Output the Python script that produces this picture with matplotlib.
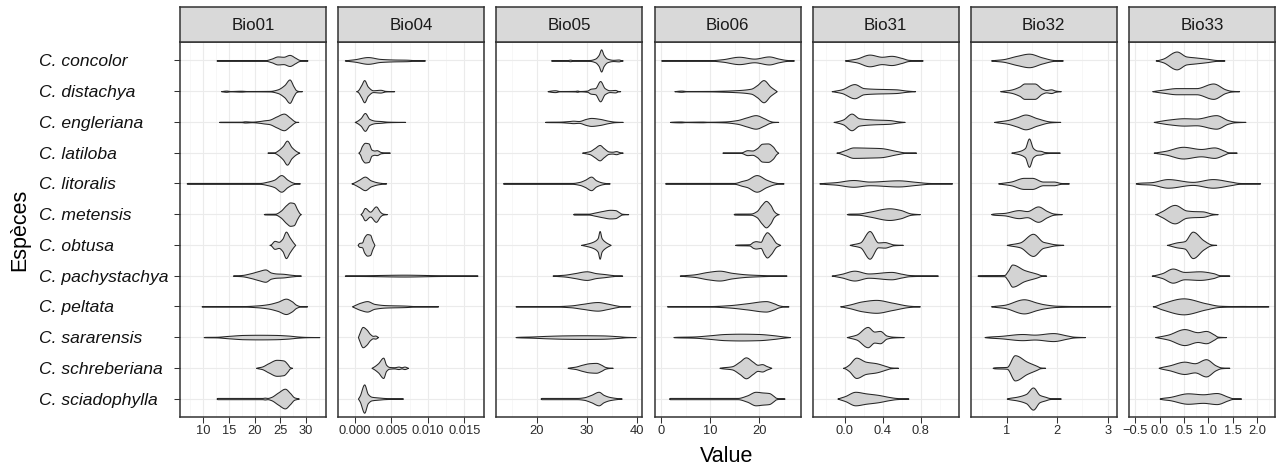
import numpy as np
import matplotlib
matplotlib.use("Agg")
import matplotlib.pyplot as plt

plt.rcParams['font.family'] = ['Liberation Sans', 'DejaVu Sans']

species = ["C. concolor", "C. distachya", "C. engleriana", "C. latiloba", "C. litoralis",
           "C. metensis", "C. obtusa", "C. pachystachya", "C. peltata", "C. sararensis",
           "C. schreberiana", "C. sciadophylla"]
panels = ["Bio01", "Bio04", "Bio05", "Bio06", "Bio31", "Bio32", "Bio33"]

# violin outlines: (value, half-width in category units), one list per species
bio01 = [
    [(12.6,0),(12.9,0.006),(22.0,0.008),(23.3,0.06),(24.5,0.13),(25.6,0.12),(26.8,0.18),(27.9,0.09),(28.7,0.02),(29.3,0.006),(30.3,0)],
    [(13.5,0),(13.7,0.006),(14.5,0.02),(15.3,0.006),(17.4,0.015),(18.5,0.006),(23.0,0.01),(24.5,0.06),(25.8,0.2),(26.8,0.38),(27.6,0.15),(28.1,0.03),(28.6,0.006),(29.2,0)],
    [(13.1,0),(13.3,0.006),(17.5,0.008),(18.1,0.02),(19.5,0.01),(21.0,0.03),(21.8,0.05),(22.8,0.07),(24.3,0.18),(25.7,0.27),(26.8,0.15),(27.7,0.03),(28.0,0.006),(28.5,0)],
    [(22.5,0),(22.7,0.006),(23.8,0.01),(24.6,0.08),(25.5,0.22),(26.3,0.39),(27.2,0.18),(28.2,0.04),(28.7,0)],
    [(6.8,0),(7.0,0.015),(21.0,0.015),(22.6,0.06),(23.8,0.12),(25.2,0.27),(26.4,0.12),(27.4,0.03),(28.0,0.006),(28.8,0)],
    [(21.8,0),(22.0,0.01),(24.0,0.015),(25.0,0.1),(26.2,0.3),(26.9,0.38),(27.6,0.36),(28.3,0.15),(28.8,0.02),(29.0,0)],
    [(22.9,0),(23.1,0.01),(23.9,0.13),(24.7,0.1),(25.4,0.2),(26.1,0.43),(26.8,0.25),(27.5,0.08),(27.9,0)],
    [(15.8,0),(16.0,0.006),(17.5,0.02),(19.3,0.08),(20.8,0.15),(22.1,0.2),(23.2,0.1),(24.2,0.07),(25.5,0.06),(27.0,0.03),(28.5,0.006),(29.0,0)],
    [(9.7,0),(9.9,0.006),(17.5,0.008),(20.5,0.03),(22.6,0.07),(24.5,0.15),(26.1,0.25),(27.2,0.17),(28.1,0.05),(28.8,0.01),(30.2,0)],
    [(10.1,0),(10.4,0.006),(12.5,0.01),(15.0,0.04),(18.0,0.07),(21.0,0.075),(24.0,0.07),(26.5,0.05),(28.4,0.02),(30.0,0.006),(32.6,0)],
    [(20.3,0),(20.5,0.01),(21.4,0.04),(22.7,0.15),(24.3,0.26),(25.6,0.24),(26.5,0.1),(26.8,0.03),(27.3,0)],
    [(12.6,0),(12.8,0.02),(21.5,0.02),(22.0,0.03),(22.5,0.02),(23.2,0.05),(24.6,0.2),(25.9,0.32),(26.9,0.18),(27.7,0.04),(28.1,0.02),(28.6,0)],
]
bio04 = [
    [(-0.00135,0),(-0.0012,0.006),(0.0,0.04),(0.0018,0.11),(0.0035,0.05),(0.0055,0.03),(0.007,0.025),(0.0082,0.01),(0.0096,0)],
    [(0.0002,0),(0.0004,0.02),(0.0009,0.2),(0.0013,0.36),(0.0018,0.15),(0.0025,0.03),(0.0035,0.045),(0.0042,0.01),(0.0054,0)],
    [(0.0,0),(0.0002,0.02),(0.0008,0.12),(0.0014,0.29),(0.002,0.1),(0.0028,0.04),(0.0035,0.03),(0.0045,0.01),(0.0069,0)],
    [(0.0005,0),(0.0007,0.05),(0.001,0.22),(0.0014,0.32),(0.0019,0.3),(0.0023,0.1),(0.0027,0.07),(0.003,0.08),(0.0036,0.02),(0.0048,0)],
    [(-0.00045,0),(-0.0002,0.02),(0.0006,0.12),(0.0014,0.22),(0.0022,0.1),(0.0032,0.03),(0.0043,0)],
    [(0.0008,0),(0.001,0.05),(0.0014,0.2),(0.0021,0.08),(0.0029,0.25),(0.0035,0.07),(0.0038,0.02),(0.0044,0)],
    [(0.0004,0),(0.0006,0.06),(0.001,0.08),(0.0013,0.25),(0.0017,0.35),(0.0021,0.33),(0.0024,0.15),(0.0027,0)],
    [(-0.00135,0),(-0.001,0.006),(0.002,0.015),(0.0068,0.03),(0.011,0.015),(0.015,0.006),(0.0168,0)],
    [(-0.00036,0),(-0.0001,0.03),(0.0008,0.12),(0.0017,0.17),(0.0027,0.08),(0.0042,0.04),(0.0068,0.025),(0.0085,0.006),(0.0114,0)],
    [(0.00045,0),(0.0006,0.1),(0.0011,0.33),(0.0016,0.25),(0.0021,0.1),(0.0025,0.04),(0.0028,0.05),(0.0032,0)],
    [(0.0023,0),(0.0026,0.04),(0.0032,0.15),(0.0039,0.33),(0.0043,0.1),(0.0047,0.03),(0.0054,0.02),(0.006,0.04),(0.0064,0.02),(0.0068,0.04),(0.0073,0)],
    [(0.00045,0),(0.0007,0.1),(0.0013,0.46),(0.0018,0.15),(0.0023,0.06),(0.003,0.04),(0.0035,0.03),(0.004,0.02),(0.0066,0)],
]
bio05 = [
    [(22.8,0),(23.0,0.006),(26.0,0.01),(26.6,0.025),(27.2,0.008),(30.5,0.015),(31.6,0.06),(32.3,0.18),(32.8,0.36),(33.3,0.18),(34.0,0.06),(35.2,0.02),(36.3,0.03),(36.8,0.008),(37.1,0)],
    [(22.1,0),(22.3,0.008),(23.6,0.03),(24.5,0.006),(27.6,0.01),(28.0,0.02),(28.5,0.006),(30.0,0.02),(30.7,0.08),(31.6,0.1),(32.6,0.33),(33.5,0.1),(34.5,0.03),(35.6,0.04),(36.1,0.01),(36.6,0)],
    [(21.6,0),(21.8,0.006),(24.5,0.01),(26.5,0.03),(27.2,0.04),(28.3,0.03),(29.8,0.1),(30.8,0.13),(32.5,0.1),(34.2,0.04),(35.5,0.01),(37.1,0)],
    [(29.0,0),(29.3,0.01),(30.5,0.05),(31.5,0.15),(32.5,0.25),(33.3,0.15),(34.3,0.04),(35.0,0.03),(35.8,0.05),(36.4,0.02),(37.1,0)],
    [(13.2,0),(13.4,0.015),(27.0,0.015),(28.5,0.05),(29.6,0.12),(30.8,0.22),(31.8,0.1),(33.0,0.03),(33.8,0.01),(34.5,0)],
    [(27.2,0),(27.4,0.015),(30.3,0.015),(31.5,0.05),(33.0,0.1),(34.6,0.14),(35.6,0.13),(36.4,0.06),(36.9,0.015),(38.2,0)],
    [(28.8,0),(29.1,0.01),(30.2,0.05),(31.4,0.12),(32.1,0.22),(32.5,0.45),(32.9,0.22),(33.6,0.1),(34.2,0.04),(34.7,0)],
    [(23.1,0),(23.4,0.006),(25.5,0.03),(27.5,0.08),(29.9,0.14),(31.8,0.08),(33.5,0.05),(35.0,0.02),(36.0,0.006),(37.0,0)],
    [(15.7,0),(16.0,0.006),(23.5,0.008),(26.7,0.03),(29.0,0.08),(32.1,0.14),(34.0,0.09),(35.8,0.03),(36.8,0.006),(38.6,0)],
    [(15.7,0),(16.0,0.006),(19.0,0.02),(22.0,0.04),(25.5,0.055),(29.3,0.06),(33.0,0.055),(36.0,0.03),(37.8,0.008),(39.7,0)],
    [(26.1,0),(26.4,0.01),(27.7,0.04),(29.0,0.1),(30.5,0.15),(31.8,0.16),(32.8,0.1),(33.6,0.03),(34.2,0.01),(35.1,0)],
    [(20.7,0),(20.9,0.02),(28.0,0.02),(29.3,0.04),(30.8,0.12),(32.3,0.22),(33.3,0.12),(34.3,0.06),(35.3,0.03),(36.3,0.01),(36.9,0)],
]
bio06 = [
    [(0.0,0),(0.3,0.008),(10.1,0.01),(12.5,0.04),(15.9,0.12),(19.0,0.06),(22.0,0.13),(24.0,0.06),(25.4,0.02),(27.1,0)],
    [(2.7,0),(3.0,0.006),(4.1,0.02),(5.2,0.006),(10.0,0.008),(12.2,0.015),(15.0,0.03),(18.3,0.08),(19.6,0.2),(20.9,0.36),(22.3,0.15),(23.6,0)],
    [(1.8,0),(2.1,0.006),(4.0,0.015),(5.0,0.006),(8.4,0.012),(9.5,0.006),(12.9,0.015),(15.5,0.06),(17.5,0.15),(19.3,0.22),(21.0,0.12),(22.2,0.03),(22.8,0.008),(23.9,0)],
    [(12.5,0),(12.8,0.008),(16.3,0.01),(17.6,0.08),(18.6,0.07),(19.6,0.15),(20.6,0.29),(21.8,0.3),(22.8,0.2),(23.5,0.05),(23.9,0)],
    [(0.8,0),(1.0,0.015),(14.9,0.015),(16.5,0.08),(17.5,0.12),(19.5,0.27),(21.5,0.12),(23.1,0.03),(24.0,0.008),(25.0,0)],
    [(14.8,0),(15.0,0.015),(18.3,0.02),(19.5,0.1),(20.5,0.3),(21.4,0.43),(22.3,0.3),(23.0,0.1),(23.6,0.02),(24.0,0)],
    [(15.1,0),(15.4,0.01),(18.0,0.02),(18.8,0.1),(19.3,0.12),(20.3,0.1),(21.0,0.3),(21.6,0.41),(22.4,0.3),(23.5,0.06),(24.3,0)],
    [(3.8,0),(4.1,0.006),(6.7,0.04),(9.5,0.12),(11.9,0.16),(14.5,0.09),(17.5,0.04),(20.3,0.02),(23.0,0.008),(25.6,0)],
    [(1.2,0),(1.5,0.006),(10.1,0.01),(14.0,0.04),(17.5,0.1),(21.4,0.17),(23.0,0.1),(24.1,0.03),(25.0,0.008),(26.0,0)],
    [(2.5,0),(2.8,0.006),(6.7,0.02),(10.0,0.06),(13.0,0.1),(16.3,0.11),(20.0,0.1),(23.0,0.06),(25.0,0.02),(26.3,0)],
    [(11.9,0),(12.2,0.01),(14.4,0.05),(16.0,0.2),(17.3,0.34),(18.7,0.2),(19.7,0.1),(20.6,0.12),(21.5,0.06),(22.5,0)],
    [(1.6,0),(1.8,0.02),(15.6,0.02),(17.5,0.1),(19.3,0.22),(20.6,0.2),(22.0,0.18),(23.0,0.08),(23.4,0.03),(23.8,0.015),(25.2,0)],
]
bio31 = [
    [(0.0,0),(0.02,0.01),(0.12,0.06),(0.26,0.19),(0.39,0.12),(0.49,0.15),(0.6,0.08),(0.67,0.02),(0.75,0.008),(0.82,0)],
    [(-0.14,0),(-0.12,0.01),(-0.035,0.06),(0.1,0.23),(0.2,0.1),(0.3,0.08),(0.54,0.06),(0.65,0.02),(0.74,0)],
    [(-0.12,0),(-0.1,0.01),(-0.02,0.08),(0.07,0.27),(0.15,0.12),(0.3,0.08),(0.47,0.06),(0.56,0.02),(0.63,0)],
    [(-0.09,0),(-0.07,0.01),(0.0,0.08),(0.09,0.17),(0.26,0.16),(0.37,0.15),(0.55,0.05),(0.63,0.01),(0.75,0)],
    [(-0.27,0),(-0.25,0.008),(-0.1,0.04),(0.09,0.11),(0.26,0.06),(0.56,0.1),(0.75,0.05),(0.88,0.015),(1.13,0)],
    [(0.02,0),(0.04,0.015),(0.14,0.02),(0.26,0.08),(0.47,0.19),(0.58,0.14),(0.7,0.02),(0.79,0)],
    [(0.05,0),(0.07,0.015),(0.16,0.08),(0.26,0.45),(0.35,0.08),(0.42,0.09),(0.47,0.05),(0.51,0.015),(0.61,0)],
    [(-0.14,0),(-0.12,0.01),(-0.035,0.06),(0.1,0.16),(0.25,0.07),(0.49,0.12),(0.6,0.06),(0.68,0.02),(0.98,0)],
    [(-0.05,0),(-0.03,0.01),(0.05,0.06),(0.18,0.16),(0.33,0.21),(0.5,0.12),(0.68,0.02),(0.79,0)],
    [(0.02,0),(0.04,0.015),(0.12,0.08),(0.24,0.33),(0.31,0.18),(0.37,0.2),(0.44,0.05),(0.5,0.015),(0.62,0)],
    [(-0.02,0),(0.0,0.02),(0.04,0.1),(0.12,0.33),(0.22,0.2),(0.33,0.15),(0.44,0.05),(0.48,0.015),(0.56,0)],
    [(-0.08,0),(-0.06,0.02),(0.0,0.08),(0.11,0.22),(0.22,0.17),(0.35,0.12),(0.47,0.05),(0.54,0.02),(0.67,0)],
]
bio32 = [
    [(0.69,0),(0.72,0.008),(0.92,0.04),(1.2,0.15),(1.44,0.22),(1.7,0.1),(1.93,0.015),(2.11,0)],
    [(0.87,0),(0.9,0.008),(1.08,0.05),(1.25,0.15),(1.35,0.25),(1.55,0.25),(1.7,0.08),(1.78,0.04),(1.88,0.06),(1.96,0.02),(2.07,0)],
    [(0.75,0),(0.78,0.008),(1.01,0.06),(1.2,0.15),(1.37,0.24),(1.6,0.12),(1.86,0.015),(2.06,0)],
    [(1.09,0),(1.12,0.01),(1.26,0.06),(1.36,0.15),(1.44,0.46),(1.52,0.15),(1.6,0.07),(1.67,0.06),(1.75,0.02),(2.05,0)],
    [(0.83,0),(0.86,0.008),(1.08,0.06),(1.34,0.18),(1.5,0.18),(1.72,0.06),(1.93,0.06),(2.07,0.015),(2.23,0)],
    [(0.69,0),(0.72,0.015),(0.95,0.04),(1.24,0.13),(1.4,0.1),(1.62,0.25),(1.8,0.1),(1.93,0.02),(2.09,0)],
    [(1.0,0),(1.03,0.01),(1.26,0.08),(1.52,0.36),(1.72,0.1),(1.8,0.07),(1.95,0.02),(2.12,0)],
    [(0.42,0),(0.45,0.015),(0.95,0.02),(1.02,0.15),(1.11,0.36),(1.35,0.18),(1.6,0.06),(1.68,0.015),(1.78,0)],
    [(0.69,0),(0.72,0.008),(0.95,0.05),(1.34,0.23),(1.6,0.12),(1.73,0.07),(2.0,0.02),(2.4,0.01),(2.71,0.01),(3.05,0)],
    [(0.56,0),(0.59,0.008),(0.88,0.04),(1.31,0.1),(1.55,0.08),(1.92,0.13),(2.2,0.05),(2.32,0.015),(2.55,0)],
    [(0.72,0),(0.75,0.015),(1.0,0.03),(1.16,0.41),(1.4,0.2),(1.6,0.06),(1.66,0.015),(1.76,0)],
    [(1.0,0),(1.03,0.015),(1.2,0.06),(1.38,0.15),(1.52,0.36),(1.65,0.12),(1.76,0.06),(1.86,0.015),(2.07,0)],
]
bio33 = [
    [(-0.08,0),(-0.05,0.008),(0.07,0.06),(0.35,0.29),(0.55,0.13),(0.72,0.1),(0.95,0.06),(1.16,0.015),(1.33,0)],
    [(-0.15,0),(-0.12,0.008),(0.07,0.05),(0.35,0.1),(0.75,0.1),(1.1,0.25),(1.35,0.06),(1.46,0.015),(1.63,0)],
    [(-0.12,0),(-0.09,0.008),(0.2,0.08),(0.5,0.12),(0.75,0.11),(1.16,0.22),(1.4,0.06),(1.53,0.015),(1.76,0)],
    [(-0.12,0),(-0.09,0.008),(0.12,0.06),(0.48,0.19),(0.85,0.12),(1.12,0.17),(1.33,0.06),(1.4,0.015),(1.58,0)],
    [(-0.49,0),(-0.46,0.015),(-0.17,0.04),(0.17,0.14),(0.68,0.05),(1.09,0.14),(1.45,0.06),(1.63,0.015),(2.06,0)],
    [(-0.09,0),(-0.06,0.015),(0.05,0.1),(0.31,0.3),(0.55,0.12),(0.68,0.1),(0.88,0.09),(1.08,0.015),(1.19,0)],
    [(0.15,0),(0.18,0.01),(0.35,0.08),(0.51,0.12),(0.68,0.43),(0.9,0.15),(1.06,0.015),(1.16,0)],
    [(-0.16,0),(-0.13,0.008),(0.05,0.08),(0.27,0.23),(0.51,0.12),(0.82,0.14),(1.1,0.08),(1.23,0.015),(1.43,0)],
    [(-0.14,0),(-0.11,0.008),(0.05,0.1),(0.49,0.26),(0.95,0.1),(1.23,0.02),(1.5,0.01),(1.7,0.012),(1.9,0.008),(2.23,0)],
    [(-0.09,0),(-0.06,0.008),(0.17,0.08),(0.51,0.26),(0.78,0.16),(0.95,0.2),(1.12,0.08),(1.19,0.015),(1.36,0)],
    [(-0.02,0),(0.01,0.015),(0.2,0.08),(0.51,0.2),(0.72,0.15),(0.95,0.28),(1.15,0.08),(1.26,0.015),(1.43,0)],
    [(0.0,0),(0.03,0.015),(0.2,0.05),(0.58,0.17),(0.89,0.14),(1.17,0.18),(1.4,0.06),(1.49,0.015),(1.67,0)],
]

ticks01 = [10, 15, 20, 25, 30]
ticks04 = [0.0, 0.005, 0.010, 0.015]
ticks05 = [20, 30, 40]
ticks06 = [0, 10, 20]
ticks31 = [0.0, 0.4, 0.8]
ticks32 = [1, 2, 3]
ticks33 = [-0.5, 0.0, 0.5, 1.0, 1.5, 2.0]
labels01 = ["10", "15", "20", "25", "30"]
labels04 = ["0.000", "0.005", "0.010", "0.015"]
labels05 = ["20", "30", "40"]
labels06 = ["0", "10", "20"]
labels31 = ["0.0", "0.4", "0.8"]
labels32 = ["1", "2", "3"]
labels33 = ["\u22120.5", "0.0", "0.5", "1.0", "1.5", "2.0"]

panel_data = [bio01, bio04, bio05, bio06, bio31, bio32, bio33]
panel_ticks = [ticks01, ticks04, ticks05, ticks06, ticks31, ticks32, ticks33]
panel_labels = [labels01, labels04, labels05, labels06, labels31, labels32, labels33]


def pchip_outline(knots, n=40):
    x = np.array([k[0] for k in knots], float)
    y = np.array([k[1] for k in knots], float)
    h = np.diff(x)
    d = np.diff(y) / h
    m = np.zeros_like(y)
    for k in range(1, len(x) - 1):
        if d[k - 1] * d[k] > 0:
            w1 = 2 * h[k] + h[k - 1]
            w2 = h[k] + 2 * h[k - 1]
            m[k] = (w1 + w2) / (w1 / d[k - 1] + w2 / d[k])
    m[0] = d[0]
    m[-1] = d[-1]
    xs, ys = [], []
    for k in range(len(x) - 1):
        t = np.linspace(0, 1, n, endpoint=(k == len(x) - 2))
        h00 = 2 * t**3 - 3 * t**2 + 1
        h10 = t**3 - 2 * t**2 + t
        h01 = -2 * t**3 + 3 * t**2
        h11 = t**3 - t**2
        xs.append(x[k] + t * h[k])
        ys.append(h00 * y[k] + h10 * h[k] * m[k] + h01 * y[k + 1] + h11 * h[k] * m[k + 1])
    return np.concatenate(xs), np.clip(np.concatenate(ys), 0, None)


W, H = 1279, 465
fig = plt.figure(figsize=(W / 100, H / 100), dpi=100)

dark = "#333333"
grid_col = "#EBEBEB"
p_bottom, p_top = 417, 42
strip_top = 7
pw = 146
lefts = [180 + i * 158.17 for i in range(7)]

for pi, (name, data, tks, tlabs) in enumerate(zip(panels, panel_data, panel_ticks, panel_labels)):
    left = lefts[pi]
    ax = fig.add_axes([left / W, 1 - p_bottom / H, pw / W, (p_bottom - p_top) / H])
    ax.set_facecolor("white")
    lo = min(k[0] for v in data for k in v)
    hi = max(k[0] for v in data for k in v)
    pad = 0.05 * (hi - lo)
    xlo, xhi = lo - pad, hi + pad
    ax.set_xlim(xlo, xhi)
    ax.set_ylim(len(species) - 0.4, -0.6)

    # grid
    step = tks[1] - tks[0]
    minors = [t - step / 2 for t in tks] + [tks[-1] + step / 2]
    for mv in minors:
        if xlo < mv < xhi:
            ax.axvline(mv, color="#F3F3F3", lw=0.45, zorder=0)
    for t in tks:
        ax.axvline(t, color=grid_col, lw=0.8, zorder=0)
    for i in range(len(species)):
        ax.axhline(i, color=grid_col, lw=0.8, zorder=0)

    for i, knots in enumerate(data):
        xs, hw = pchip_outline(knots)
        ax.fill_between(xs, i - hw, i + hw, facecolor="#D3D3D3", edgecolor="#262626",
                        linewidth=0.75, zorder=2)

    ax.set_xticks(tks)
    ax.set_xticklabels(tlabs)
    ax.tick_params(axis="x", length=4.0, width=0.75, color=dark, labelsize=9.3,
                   labelcolor="#2B2B2B", pad=1.8)
    if pi == 0:
        ax.set_yticks(range(len(species)))
        ax.set_yticklabels(species, fontstyle="italic", fontsize=12.6, color="#111111", ha="left")
        ax.tick_params(axis="y", length=4.0, width=0.75, color=dark,
                       pad=(180 - 39) * 0.72 - 4.0)
    else:
        ax.set_yticks([])
    for s in ax.spines.values():
        s.set_color(dark)
        s.set_linewidth(1.1)

    sax = fig.add_axes([left / W, 1 - p_top / H, pw / W, (p_top - strip_top) / H])
    sax.set_facecolor("#D9D9D9")
    sax.set_xticks([])
    sax.set_yticks([])
    for s in sax.spines.values():
        s.set_color(dark)
        s.set_linewidth(1.1)
    sax.text(0.5, 0.5, name, transform=sax.transAxes, ha="center", va="center_baseline",
             fontsize=12.2, color="#1A1A1A")

fig.text(727 / W, 3 / H, "Value", ha="center", va="baseline", fontsize=15.5, color="black")
fig.text(20 / W, 1 - 229.5 / H, "Espèces", ha="center", va="center", rotation=90,
         fontsize=15.5, color="black")

fig.savefig("out.png", dpi=100)
